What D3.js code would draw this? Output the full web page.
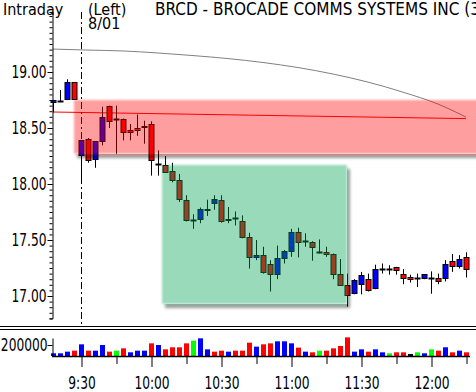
<!DOCTYPE html>
<html>
<head>
<meta charset="utf-8">
<script src="https://cdn.jsdelivr.net/npm/d3@7"></script>
<style>
  body { margin: 0; background: #fff; }
  svg { display: block; }
  text { font-family: "DejaVu Sans Condensed", "Liberation Sans", sans-serif; font-size: 17px; fill: #000; }
</style>
</head>
<body>
<svg id="chart" width="476" height="392"></svg>
<script>
// bar times (3 minute bars)
var times = ["9:18","9:21","9:24","9:27","9:30","9:33","9:36","9:39","9:42","9:45",
  "9:48","9:51","9:54","9:57","10:00","10:03","10:06","10:09","10:12","10:15",
  "10:18","10:21","10:24","10:27","10:30","10:33","10:36","10:39","10:42","10:45",
  "10:48","10:51","10:54","10:57","11:00","11:03","11:06","11:09","11:12","11:15",
  "11:18","11:21","11:24","11:27","11:30","11:33","11:36","11:39","11:42","11:45",
  "11:48","11:51","11:54","11:57","12:00","12:03","12:06","12:09","12:12","12:15"];

var open  = [18.73,18.74,18.76,18.91,18.255,18.40,18.22,18.38,18.695,18.58,
  18.58,18.48,18.50,18.52,18.535,18.175,18.17,18.115,18.035,17.86,
  17.68,17.685,17.765,17.83,17.86,17.685,17.695,17.67,17.525,17.35,
  17.37,17.29,17.20,17.335,17.405,17.57,17.49,17.485,17.395,17.39,
  17.375,17.20,17.095,17.03,17.105,17.15,17.07,17.245,17.245,17.255,
  17.195,17.17,17.16,17.165,17.16,17.16,17.16,17.31,17.265,17.345];
var high  = [18.75,18.84,18.935,18.91,18.39,18.41,18.38,18.69,18.70,18.70,
  18.585,18.535,18.62,18.565,18.56,18.30,18.25,18.19,18.09,17.90,
  17.73,17.79,17.86,17.90,17.90,17.795,17.755,17.72,17.565,17.50,
  17.44,17.32,17.45,17.41,17.60,17.61,17.56,17.49,17.505,17.44,
  17.38,17.33,17.20,17.15,17.215,17.20,17.28,17.29,17.275,17.26,
  17.24,17.19,17.20,17.195,17.22,17.20,17.32,17.375,17.365,17.39];
var low   = [18.64,18.735,18.75,18.755,18.04,18.19,18.145,18.345,18.50,18.27,
  18.39,18.39,18.43,18.36,18.075,18.075,18.10,18.015,17.84,17.665,
  17.60,17.65,17.715,17.77,17.655,17.65,17.63,17.515,17.245,17.32,
  17.20,17.04,17.15,17.29,17.35,17.345,17.44,17.315,17.38,17.35,
  17.15,17.09,16.905,17.015,17.015,17.04,17.06,17.20,17.19,17.19,
  17.105,17.12,17.08,17.15,17.02,17.105,17.13,17.215,17.245,17.165];
var close = [18.75,18.745,18.91,18.76,18.39,18.21,18.38,18.595,18.56,18.58,
  18.46,18.46,18.48,18.505,18.215,18.175,18.11,18.04,17.865,17.68,
  17.68,17.775,17.78,17.865,17.67,17.675,17.695,17.53,17.35,17.37,
  17.21,17.195,17.335,17.40,17.57,17.485,17.49,17.435,17.395,17.375,
  17.20,17.10,17.005,17.145,17.185,17.05,17.245,17.245,17.245,17.23,
  17.16,17.15,17.16,17.195,17.16,17.13,17.285,17.27,17.33,17.245];

var volume = [49,49,79,97,212,97,97,200,79,97,139,67,97,97,230,200,121,158,158,230,
  279,321,121,79,97,79,97,97,242,170,212,230,267,267,230,152,79,67,97,97,
  139,182,339,79,121,79,121,67,49,67,67,36,67,49,121,97,158,67,97,67].map(function(v) { return v * 1000; });
var volColor = ["b","b","b","r","b","r","b","b","r","g","r","b","b","b","r","b","r","r","r","r",
  "g","b","b","r","r","b","r","r","r","b","r","r","b","b","b","r","b","r","g","r",
  "r","r","r","b","b","r","b","b","g","r","r","k","g","b","g","r","b","r","b","r"];

// moving average lines, sampled every 5 bars
var maIdx  = [0,5,10,15,20,25,30,35,40,45,50,55,59];
var grayMA = [19.205,19.196,19.188,19.17,19.147,19.12,19.085,19.04,18.982,18.91,18.82,18.714,18.598];
var redMA  = [18.643,18.638,18.633,18.628,18.623,18.618,18.613,18.608,18.603,18.598,18.593,18.588,18.584];

var yMajor = [17.00,17.50,18.00,18.50,19.00];
var volTicks = [200000];
var xMajor = ["9:30","10:00","10:30","11:00","11:30","12:00"];
var xMinor = ["9:45","10:15","10:45","11:15","11:45","12:15"];

// highlight zones
var pinkZone  = {from: "9:30", top: 18.75, bottom: 18.27};
var greenZone = {from: "10:06", to: "11:24", top: 18.17, bottom: 16.93};

var colors = {b: "#0000ff", r: "#ff0000", g: "#00ff00", k: "#000000"};

var svg = d3.select("svg#chart");
var parse = d3.timeParse("%H:%M");
var bars = times.map(function(t, i) {
  return {t: parse(t), o: open[i], h: high[i], l: low[i], c: close[i], v: volume[i], vc: volColor[i]};
});

var x = d3.scaleTime().domain([parse("9:18"), parse("12:15")]).range([53, 466]);
var y = d3.scaleLinear().domain([16.8, 19.536]).range([318.4, 12]);
var yv = d3.scaleLinear().domain([0, 327000]).range([356, 338]);

// narrow numeric labels
var squeeze = function(g) {
  g.selectAll("text").style("font-size", "17px").attr("font-family", null)
    .attr("x", function() { return (+this.getAttribute("x") || 0) / 0.8; })
    .attr("transform", "scale(0.8,1)");
};

var defs = svg.append("defs");
var f = defs.append("filter").attr("id", "soft").attr("x", "-10%").attr("y", "-10%").attr("width", "125%").attr("height", "130%");
f.append("feGaussianBlur").attr("in", "SourceGraphic").attr("stdDeviation", 1.2).attr("result", "b");
f.append("feComponentTransfer").attr("in", "SourceAlpha").attr("result", "a")
  .append("feFuncA").attr("type", "linear").attr("slope", 10);
f.append("feGaussianBlur").attr("in", "a").attr("stdDeviation", 1.5).attr("result", "ab");
f.append("feOffset").attr("in", "ab").attr("dx", 3).attr("dy", 4).attr("result", "off");
f.append("feFlood").attr("flood-color", "#000").attr("flood-opacity", 0.4).attr("result", "fl");
f.append("feComposite").attr("in", "fl").attr("in2", "off").attr("operator", "in").attr("result", "sh");
f.append("feComposite").attr("in", "sh").attr("in2", "a").attr("operator", "out").attr("result", "sh2");
var m = f.append("feMerge");
m.append("feMergeNode").attr("in", "sh2");
m.append("feMergeNode").attr("in", "b");

// Header
svg.append("text").attr("x", 3).attr("y", 15).style("font-size", "16px").text("Intraday");
svg.append("text").attr("x", 88).attr("y", 15).style("font-size", "16px").text("(Left)");
svg.append("text").attr("x", 155).attr("y", 15).text("BRCD - BROCADE COMMS SYSTEMS INC (3 min)");
svg.append("text").attr("x", 88).attr("y", 29).style("font-size", "16px").text("8/01");

// moving averages
var maLine = function(vals) {
  return d3.line().curve(d3.curveMonotoneX)
    .x(function(d, i) { return x(parse(times[maIdx[i]])); })
    .y(function(d) { return y(d); })(vals);
};
svg.append("path").attr("d", maLine(grayMA)).attr("fill", "none").attr("stroke", "#808080").attr("stroke-width", 1);
svg.append("path").attr("d", maLine(redMA)).attr("fill", "none").attr("stroke", "#ff0000").attr("stroke-width", 1);

// session start marker
svg.append("line").attr("x1", x(parse("9:30")) + 0.5).attr("x2", x(parse("9:30")) + 0.5)
  .attr("y1", 12).attr("y2", 326).attr("stroke", "#000").attr("stroke-dasharray", "7,3,2,3");

// candles
var cg = svg.append("g");
bars.forEach(function(d) {
  var cx = Math.round(x(d.t)) + 0.5;
  cg.append("line").attr("x1", cx).attr("x2", cx).attr("y1", y(d.h)).attr("y2", y(d.l)).attr("stroke", "#000");
  var top = Math.round(y(Math.max(d.o, d.c))), bot = Math.round(y(Math.min(d.o, d.c)));
  if (bot - top < 1) {
    cg.append("line").attr("x1", cx - 3).attr("x2", cx + 3).attr("y1", top + 0.5).attr("y2", top + 0.5).attr("stroke", "#000").attr("stroke-width", 2);
  } else {
    cg.append("rect").attr("x", cx - 2.5).attr("y", top + 0.5).attr("width", 5).attr("height", bot - top)
      .attr("fill", d.c >= d.o ? "#0000ff" : "#ff0000").attr("stroke", "#000");
  }
});

// highlight zones
svg.append("rect").attr("x", x(parse(pinkZone.from)) - 7).attr("y", y(pinkZone.top))
  .attr("width", 476 - x(parse(pinkZone.from)) + 20).attr("height", y(pinkZone.bottom) - y(pinkZone.top))
  .attr("fill", "rgba(255,0,0,0.38)").attr("filter", "url(#soft)");
svg.append("rect").attr("x", x(parse(greenZone.from)) - 3).attr("y", y(greenZone.top))
  .attr("width", x(parse(greenZone.to)) - x(parse(greenZone.from)) + 3).attr("height", y(greenZone.bottom) - y(greenZone.top))
  .attr("fill", "rgba(0,162,82,0.4)").attr("filter", "url(#soft)");

// price axis
svg.append("g").attr("transform", "translate(52.5,0)")
  .call(d3.axisLeft(y).tickValues(d3.range(16.8, 19.52, 0.05)).tickSize(3).tickFormat(""))
  .call(function(g) { g.selectAll("path").attr("stroke", "#000"); });
svg.append("g").attr("transform", "translate(52.5,0)")
  .call(d3.axisLeft(y).tickValues(yMajor).tickSize(5).tickPadding(1).tickFormat(d3.format(".2f")))
  .call(function(g) { g.select(".domain").remove(); })
  .call(squeeze);

// panel separators
svg.append("line").attr("x1", 0).attr("x2", 476).attr("y1", 326.5).attr("y2", 326.5).attr("stroke", "#000");
svg.append("line").attr("x1", 0).attr("x2", 476).attr("y1", 329.5).attr("y2", 329.5).attr("stroke", "#000");

// volume
svg.append("g").selectAll("rect").data(bars).enter().append("rect")
  .attr("x", function(d) { return Math.round(x(d.t)) - 2; })
  .attr("y", function(d) { return yv(d.v); })
  .attr("width", 5)
  .attr("height", function(d) { return 356 - yv(d.v); })
  .attr("fill", function(d) { return colors[d.vc]; });

svg.append("g").attr("transform", "translate(52.5,0)")
  .call(d3.axisLeft(yv).tickValues(volTicks).tickSize(5).tickSizeOuter(0).tickPadding(0).tickFormat(d3.format("d")))
  .call(squeeze);
svg.append("line").attr("x1", 52).attr("x2", 470).attr("y1", 356.5).attr("y2", 356.5).attr("stroke", "#000").attr("stroke-width", 1.5);

// time axis
svg.append("g").attr("transform", "translate(0.5,357)")
  .call(d3.axisBottom(x).tickValues(xMinor.map(parse)).tickSize(7).tickFormat(""))
  .call(function(g) { g.select(".domain").remove(); });
svg.append("g").attr("transform", "translate(0.5,357)")
  .call(d3.axisBottom(x).tickValues(xMajor.map(parse)).tickSize(10).tickPadding(10).tickFormat(d3.timeFormat("%-H:%M")))
  .call(function(g) { g.select(".domain").remove(); })
  .call(squeeze);
</script>
</body>
</html>
